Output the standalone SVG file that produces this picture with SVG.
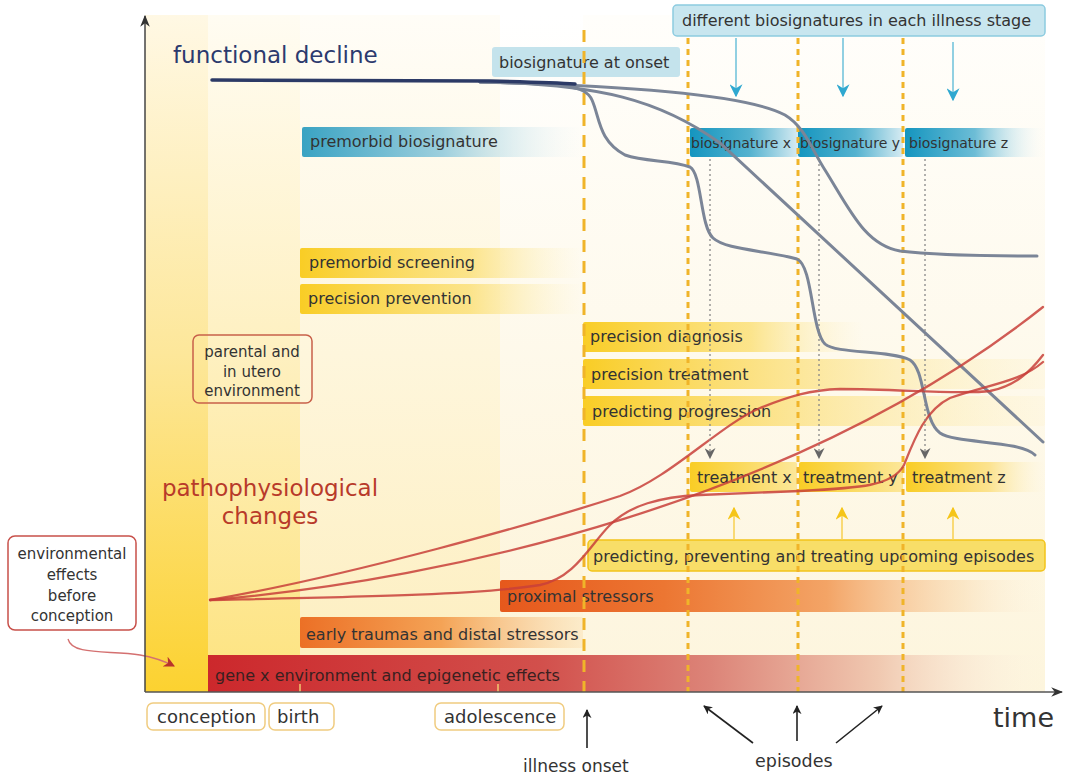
<svg xmlns="http://www.w3.org/2000/svg" width="1067" height="775" viewBox="0 0 1067 775">
<style>
text{font-family:"DejaVu Sans","Liberation Sans",sans-serif;fill:#333}
.lbl{font-size:16px}
.sm{font-size:14px}
.box{font-size:15px;text-anchor:middle}
.tick{font-size:18px}
.onset{stroke:#f0b429;stroke-width:3;stroke-dasharray:12 9;fill:none}
.ep{stroke:#f0b429;stroke-width:3;stroke-dasharray:6 5;fill:none}
.grey{stroke:#7b8597;stroke-width:3;fill:none;stroke-linecap:round}
.red{stroke:#c8403a;stroke-width:2.3;fill:none;stroke-linecap:round;opacity:.85}
.dot{stroke:#888;stroke-width:1.3;stroke-dasharray:2 3;fill:none}
.blue{stroke:#6cc0da;stroke-width:1.5;fill:none}
.yel{stroke:#f7d050;stroke-width:1.5;fill:none}
.blk{stroke:#222;stroke-width:1.6;fill:none}
</style>
<defs>
<linearGradient id="bg1" x1="0" y1="0" x2="0" y2="1"><stop offset="0" stop-color="#fff8e4"/><stop offset="0.5" stop-color="#fde79a"/><stop offset="1" stop-color="#fcd230"/></linearGradient>
<linearGradient id="bg2" x1="0" y1="0" x2="0" y2="1"><stop offset="0" stop-color="#fffcf2"/><stop offset="0.5" stop-color="#fef0c0"/><stop offset="1" stop-color="#fde37e"/></linearGradient>
<linearGradient id="bg3" x1="0" y1="0" x2="0" y2="1"><stop offset="0" stop-color="#fffdf7"/><stop offset="0.5" stop-color="#fef6dc"/><stop offset="1" stop-color="#fdeebe"/></linearGradient>
<linearGradient id="bg4" x1="0" y1="0" x2="0" y2="1"><stop offset="0" stop-color="#ffffff"/><stop offset="1" stop-color="#fdf3d6"/></linearGradient>
<linearGradient id="bg5" x1="0" y1="0" x2="0" y2="1"><stop offset="0" stop-color="#fffefb"/><stop offset="1" stop-color="#fdf5dd"/></linearGradient>
<linearGradient id="gTeal" x1="0" y1="0" x2="1" y2="0"><stop offset="0" stop-color="#3aa3c3"/><stop offset="0.5" stop-color="#9dcfdd"/><stop offset="1" stop-color="#e8f3f6" stop-opacity="0"/></linearGradient>
<linearGradient id="gTeal2" x1="0" y1="0" x2="1" y2="0"><stop offset="0" stop-color="#1495bf"/><stop offset="0.55" stop-color="#54b2cf"/><stop offset="1" stop-color="#d6ebf2"/></linearGradient>
<linearGradient id="gTeal3" x1="0" y1="0" x2="1" y2="0"><stop offset="0" stop-color="#1495bf"/><stop offset="0.5" stop-color="#6dbdd6"/><stop offset="1" stop-color="#eef7fa" stop-opacity="0"/></linearGradient>
<linearGradient id="gYel" x1="0" y1="0" x2="1" y2="0"><stop offset="0" stop-color="#f9cd25"/><stop offset="0.6" stop-color="#fbdf74" stop-opacity="0.8"/><stop offset="1" stop-color="#fdf0c0" stop-opacity="0"/></linearGradient>
<linearGradient id="gYelL" x1="0" y1="0" x2="1" y2="0"><stop offset="0" stop-color="#f9cd25"/><stop offset="0.35" stop-color="#fbdc6c" stop-opacity="0.85"/><stop offset="1" stop-color="#fdf0c4" stop-opacity="0.2"/></linearGradient>
<linearGradient id="gYelT" x1="0" y1="0" x2="1" y2="0"><stop offset="0" stop-color="#f9cd25"/><stop offset="1" stop-color="#fce79a"/></linearGradient>
<linearGradient id="gYelT3" x1="0" y1="0" x2="1" y2="0"><stop offset="0" stop-color="#f9cd25"/><stop offset="0.6" stop-color="#fce390"/><stop offset="1" stop-color="#fdf3d0" stop-opacity="0"/></linearGradient>
<linearGradient id="gProx" x1="0" y1="0" x2="1" y2="0"><stop offset="0" stop-color="#e6581c"/><stop offset="0.3" stop-color="#ec7632"/><stop offset="0.6" stop-color="#f3a466"/><stop offset="0.85" stop-color="#f9dcb4" stop-opacity="0.6"/><stop offset="1" stop-color="#fdf0dc" stop-opacity="0"/></linearGradient>
<linearGradient id="gEarly" x1="0" y1="0" x2="1" y2="0"><stop offset="0" stop-color="#ec7026"/><stop offset="0.5" stop-color="#f4a356"/><stop offset="1" stop-color="#fbe6bf" stop-opacity="0.6"/></linearGradient>
<linearGradient id="gGene" x1="0" y1="0" x2="1" y2="0"><stop offset="0" stop-color="#cc282c"/><stop offset="0.4" stop-color="#d2504c"/><stop offset="0.6" stop-color="#dc8478"/><stop offset="0.8" stop-color="#f0c8b0"/><stop offset="1" stop-color="#fdf3e3" stop-opacity="0"/></linearGradient>
<marker id="aBlk" viewBox="0 0 10 10" refX="9" refY="5" markerWidth="9" markerHeight="9" orient="auto-start-reverse" markerUnits="userSpaceOnUse"><path d="M0,0 L10,5 L0,10 L3,5 Z" fill="#222"/></marker>
<marker id="aAxis" viewBox="0 0 10 10" refX="9" refY="5" markerWidth="12" markerHeight="12" orient="auto" markerUnits="userSpaceOnUse"><path d="M0,1 L10,5 L0,9 L3,5 Z" fill="#333"/></marker>
<marker id="aBlue" viewBox="0 0 10 10" refX="9" refY="5" markerWidth="13" markerHeight="13" orient="auto" markerUnits="userSpaceOnUse"><path d="M0,0 L10,5 L0,10 L3,5 Z" fill="#2fa8d0"/></marker>
<marker id="aYel" viewBox="0 0 10 10" refX="9" refY="5" markerWidth="13" markerHeight="13" orient="auto" markerUnits="userSpaceOnUse"><path d="M0,0 L10,5 L0,10 L3,5 Z" fill="#f5c518"/></marker>
<marker id="aGrey" viewBox="0 0 10 10" refX="9" refY="5" markerWidth="11" markerHeight="11" orient="auto" markerUnits="userSpaceOnUse"><path d="M0,0 L10,5 L0,10 L3,5 Z" fill="#666"/></marker>
<marker id="aRed" viewBox="0 0 10 10" refX="9" refY="5" markerWidth="11" markerHeight="11" orient="auto" markerUnits="userSpaceOnUse"><path d="M0,0 L10,5 L0,10 L3,5 Z" fill="#b8332c"/></marker>
</defs>

<rect width="1067" height="775" fill="#ffffff"/>

<g id="background">
<rect x="145" y="15" width="63" height="677" fill="url(#bg1)"/>
<rect x="208" y="15" width="92" height="677" fill="url(#bg2)"/>
<rect x="300" y="15" width="200" height="677" fill="url(#bg3)"/>
<rect x="500" y="15" width="83" height="677" fill="url(#bg4)"/>
<rect x="583" y="15" width="462" height="677" fill="url(#bg5)"/>
</g>

<g id="bar-premorbid-biosignature"><rect x="302" y="127" width="281" height="30" rx="2" fill="url(#gTeal)"/><text class="lbl" x="310" y="147">premorbid biosignature</text></g>
<g id="box-biosignature-onset"><rect x="492" y="47" width="188" height="30" rx="3" fill="#c4e3ec"/><text class="lbl" x="499" y="68">biosignature at onset</text></g>
<g id="box-different-biosignatures"><rect x="673" y="5" width="372" height="31" rx="4" fill="#c8e6ef" stroke="#8ccbe0" stroke-width="1.5"/><text class="lbl" x="682" y="26">different biosignatures in each illness stage</text></g>
<g id="bar-biosignature-x"><rect x="690" y="128" width="108" height="29" rx="2" fill="url(#gTeal2)"/><text class="sm" x="691" y="148">biosignature x</text></g>
<g id="bar-biosignature-y"><rect x="798" y="128" width="105" height="29" rx="2" fill="url(#gTeal2)"/><text class="sm" x="800" y="148">biosignature y</text></g>
<g id="bar-biosignature-z"><rect x="905" y="128" width="140" height="29" rx="2" fill="url(#gTeal3)"/><text class="sm" x="909" y="148">biosignature z</text></g>

<g id="bar-premorbid-screening"><rect x="300" y="248" width="283" height="30" rx="2" fill="url(#gYel)"/><text class="lbl" x="309" y="268">premorbid screening</text></g>
<g id="bar-precision-prevention"><rect x="300" y="284" width="283" height="30" rx="2" fill="url(#gYel)"/><text class="lbl" x="308" y="304">precision prevention</text></g>
<g id="bar-precision-diagnosis"><rect x="583" y="322" width="280" height="30" rx="2" fill="url(#gYel)"/><text class="lbl" x="590" y="342">precision diagnosis</text></g>
<g id="bar-precision-treatment"><rect x="583" y="359" width="462" height="30" rx="2" fill="url(#gYelL)"/><text class="lbl" x="591" y="380">precision treatment</text></g>
<g id="bar-predicting-progression"><rect x="583" y="396" width="462" height="30" rx="2" fill="url(#gYelL)"/><text class="lbl" x="592" y="417">predicting progression</text></g>
<g id="bar-treatment-x"><rect x="690" y="462" width="107" height="30" rx="2" fill="url(#gYelT)"/><text class="lbl" x="697" y="483">treatment x</text></g>
<g id="bar-treatment-y"><rect x="799" y="462" width="104" height="30" rx="2" fill="url(#gYelT)"/><text class="lbl" x="803" y="483">treatment y</text></g>
<g id="bar-treatment-z"><rect x="906" y="462" width="139" height="30" rx="2" fill="url(#gYelT3)"/><text class="lbl" x="912" y="483">treatment z</text></g>
<g id="box-upcoming-episodes"><rect x="588" y="540" width="457" height="31" rx="4" fill="#f8de68" stroke="#f2c41a" stroke-width="1.5"/><text class="lbl" x="593" y="562">predicting, preventing and treating upcoming episodes</text></g>
<g id="bar-proximal-stressors"><rect x="500" y="580" width="545" height="32" rx="2" fill="url(#gProx)"/><text class="lbl" x="507" y="602">proximal stressors</text></g>
<g id="bar-early-traumas"><rect x="300" y="617" width="283" height="31" rx="2" fill="url(#gEarly)"/><text class="lbl" x="306" y="640">early traumas and distal stressors</text></g>
<g id="bar-gene-environment"><rect x="208" y="655" width="837" height="37" fill="url(#gGene)"/><text class="lbl" x="215" y="681" style="fill:#3a2020">gene x environment and epigenetic effects</text></g>

<g id="dashed-lines">
<line class="onset" x1="584" y1="30" x2="584" y2="692"/>
<line class="ep" x1="688" y1="38" x2="688" y2="692"/>
<line class="ep" x1="798" y1="38" x2="798" y2="692"/>
<line class="ep" x1="903" y1="38" x2="903" y2="692"/>
<line x1="300" y1="684" x2="300" y2="692" stroke="#f0c870" stroke-width="1.5"/>
<line x1="498" y1="684" x2="498" y2="692" stroke="#f0c870" stroke-width="1.5"/>
</g>

<g id="curves">
<path class="grey" d="M 480 82 C 560 84, 585 84, 592 100 C 600 118, 598 140, 625 155 C 645 162, 672 160, 690 167 C 702 174, 700 226, 713 238 C 726 250, 765 250, 797 259 C 813 266, 811 330, 825 344 C 836 354, 890 350, 910 360 C 926 370, 922 420, 940 433 C 956 444, 1020 440, 1035 455"/>
<path class="grey" d="M 480 82 C 600 84, 660 100, 720 143 L 1043 442"/>
<path class="grey" d="M 480 82 C 640 86, 750 96, 785 115 C 805 127, 812 150, 825 170 C 850 210, 865 245, 900 251 C 940 256, 1000 256, 1037 256"/>
<path d="M 212 80 L 490 81 C 530 82, 560 83, 575 84" stroke="#2c3a66" stroke-width="3.5" fill="none" stroke-linecap="round"/>
<path class="red" d="M 210 600 C 350 576, 540 522, 620 496 C 670 478, 720 425, 760 408 C 790 396, 810 390, 840 389 C 900 389, 960 395, 990 391 C 1015 386, 1030 372, 1043 355"/>
<path class="red" d="M 210 600 C 450 580, 800 500, 1043 307"/>
<path class="red" d="M 210 600 C 350 597, 480 595, 540 585 C 575 578, 590 545, 610 525 C 630 505, 660 497, 700 495 L 800 491 C 860 488, 893 486, 904 465 C 914 440, 925 410, 950 398 C 990 384, 1020 382, 1043 362"/>
</g>

<g id="connectors">
<line class="blue" x1="736" y1="38" x2="736" y2="96" marker-end="url(#aBlue)"/>
<line class="blue" x1="843" y1="38" x2="843" y2="96" marker-end="url(#aBlue)"/>
<line class="blue" x1="953" y1="42" x2="953" y2="100" marker-end="url(#aBlue)"/>
<line class="dot" x1="710" y1="159" x2="710" y2="458" marker-end="url(#aGrey)"/>
<line class="dot" x1="819" y1="159" x2="819" y2="458" marker-end="url(#aGrey)"/>
<line class="dot" x1="925" y1="159" x2="925" y2="458" marker-end="url(#aGrey)"/>
<line class="yel" x1="734" y1="540" x2="734" y2="508" marker-end="url(#aYel)"/>
<line class="yel" x1="842" y1="540" x2="842" y2="508" marker-end="url(#aYel)"/>
<line class="yel" x1="953" y1="540" x2="953" y2="508" marker-end="url(#aYel)"/>
<line class="blk" x1="587" y1="748" x2="587" y2="710" marker-end="url(#aBlk)"/>
<line class="blk" x1="753" y1="743" x2="704" y2="706" marker-end="url(#aBlk)"/>
<line class="blk" x1="797" y1="741" x2="797" y2="706" marker-end="url(#aBlk)"/>
<line class="blk" x1="836" y1="743" x2="882" y2="706" marker-end="url(#aBlk)"/>
<path d="M 68 639 C 72 656, 110 650, 140 655 C 158 658, 168 663, 174 666" stroke="#d47070" stroke-width="1.3" fill="none" marker-end="url(#aRed)"/>
</g>

<g id="axes">
<line x1="145" y1="692" x2="145" y2="16" stroke="#444" stroke-width="1.5" marker-end="url(#aAxis)"/>
<line x1="145" y1="692" x2="1062" y2="692" stroke="#555" stroke-width="1.5" marker-end="url(#aAxis)"/>
</g>

<g id="title-functional-decline"><text x="173" y="63" style="font-size:23px;fill:#2c3a6e">functional decline</text></g>
<g id="title-pathophysiological"><text x="270" y="496" style="font-size:23px;fill:#b83a2a;text-anchor:middle">pathophysiological</text><text x="270" y="524" style="font-size:23px;fill:#b83a2a;text-anchor:middle">changes</text></g>

<g id="box-parental"><rect x="193" y="335" width="119" height="68" rx="6" fill="none" stroke="#c8604a" stroke-width="1.5"/><text class="box" x="252" y="357">parental and</text><text class="box" x="252" y="377">in utero</text><text class="box" x="252" y="396">environment</text></g>
<g id="box-environmental"><rect x="8" y="536" width="128" height="94" rx="7" fill="#ffffff" stroke="#c8504a" stroke-width="1.5"/><text class="box" x="72" y="559">environmental</text><text class="box" x="72" y="580">effects</text><text class="box" x="72" y="601">before</text><text class="box" x="72" y="621">conception</text></g>

<g id="label-conception"><rect x="147" y="703" width="118" height="27" rx="6" fill="#fff" stroke="#f0cc80" stroke-width="1.5"/><text class="tick" x="157" y="723">conception</text></g>
<g id="label-birth"><rect x="269" y="703" width="65" height="27" rx="6" fill="#fff" stroke="#f0cc80" stroke-width="1.5"/><text class="tick" x="277" y="723">birth</text></g>
<g id="label-adolescence"><rect x="435" y="703" width="129" height="27" rx="6" fill="#fff" stroke="#f0cc80" stroke-width="1.5"/><text class="tick" x="444" y="723">adolescence</text></g>
<g id="label-illness-onset"><text x="523" y="772" style="font-size:17px">illness onset</text></g>
<g id="label-episodes"><text x="755" y="767" style="font-size:17.5px">episodes</text></g>
<g id="label-time"><text x="993" y="727" style="font-size:27px">time</text></g>
</svg>
